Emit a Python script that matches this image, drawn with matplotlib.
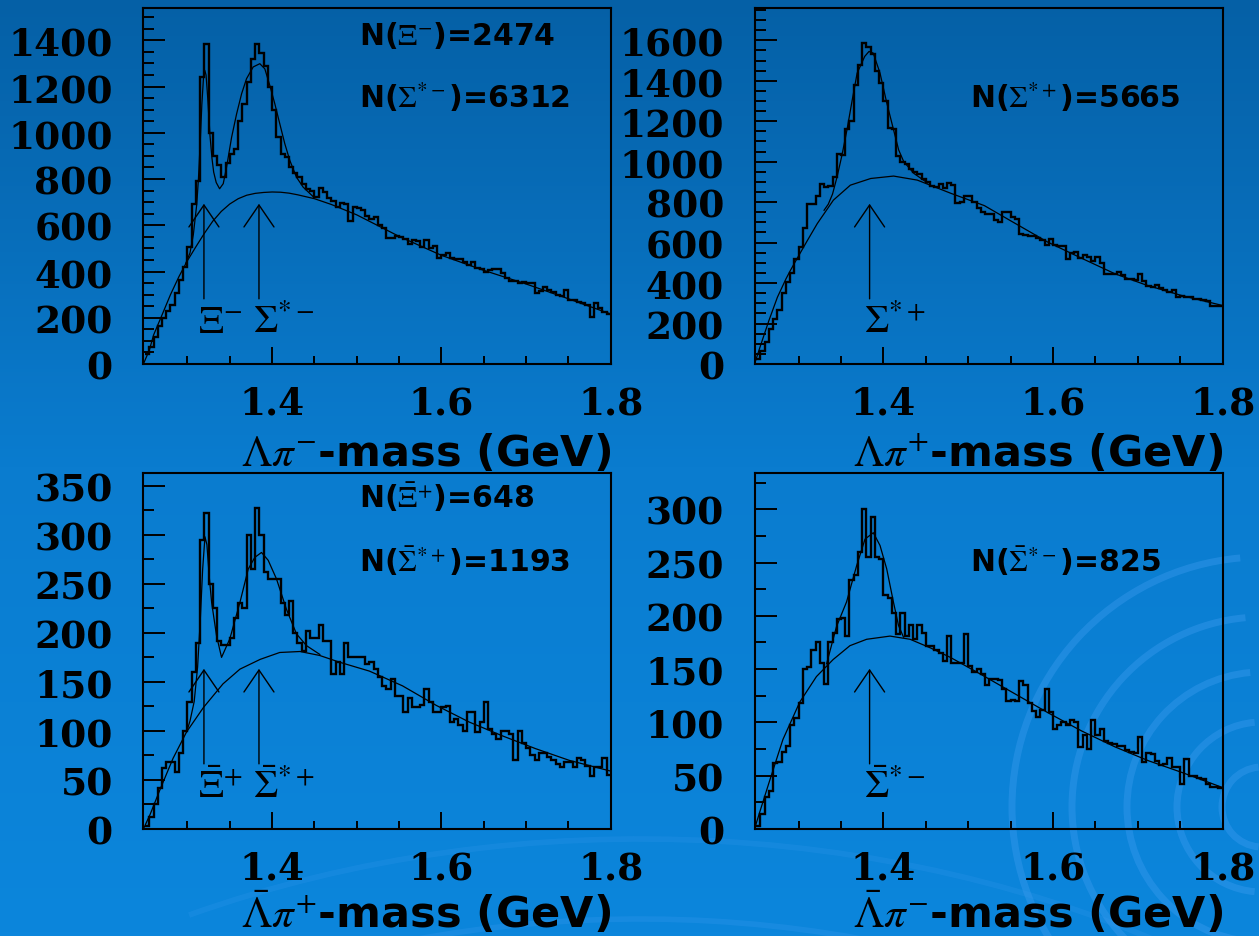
import numpy as np
import matplotlib
matplotlib.use('Agg')  # no display
import matplotlib.pyplot as plt
from matplotlib.ticker import FixedLocator, MultipleLocator
from matplotlib.colors import LinearSegmentedColormap
from matplotlib.patches import Arc

plt.rcParams['mathtext.fontset'] = 'stix'

# ----------------------------
# DATA
# ----------------------------
# 5 MeV bins from 1.250 to 1.800 GeV
edges = np.round(np.linspace(1.25, 1.80, 111), 4)

# Lambda pi-  (top left)
lpm_counts = [45, 75, 115, 165, 200, 230, 255, 305, 365, 420,
              505, 690, 790, 1240, 1385, 1000, 900, 860, 810, 870,
              910, 930, 1050, 1125, 1220, 1320, 1385, 1345, 1290, 1200,
              1100, 980, 910, 895, 850, 825, 808, 780, 758, 750,
              722, 760, 745, 720, 705, 680, 695, 690, 620, 680,
              675, 665, 640,
              625, 635, 600, 590, 545, 545, 555, 550, 540, 520,
              535, 530, 505, 535, 500, 510, 460, 470, 480, 460,
              455, 455, 440, 430, 440, 415, 412, 400, 405, 410,
              410, 395, 370, 360, 358, 350, 355, 352, 350, 305,
              315, 335, 320, 312, 300, 295, 320, 278, 275, 270,
              262, 255, 205, 265, 240, 225, 215]
lpm_bkg_m = [1.248, 1.255, 1.26, 1.27, 1.28, 1.29, 1.30, 1.31, 1.32, 1.33, 1.34, 1.35, 1.36,
             1.37, 1.38, 1.39, 1.40, 1.41, 1.42, 1.43, 1.45, 1.47, 1.50, 1.55, 1.60, 1.65,
             1.70, 1.75, 1.80]
lpm_bkg_v = [0, 60, 125, 212, 300, 378, 447, 507, 565, 618, 660, 692, 715,
             730, 738, 742, 744, 743, 739, 732, 715, 690, 645, 552, 470, 405,
             346, 282, 216]
lpm_fit_m = [1.298, 1.303, 1.307, 1.311, 1.313, 1.315, 1.317, 1.319, 1.3205, 1.322, 1.324,
             1.3266, 1.329, 1.331, 1.334, 1.338, 1.3423, 1.3462, 1.3522, 1.3581, 1.364,
             1.3698, 1.3777, 1.3855, 1.3914, 1.3973, 1.4032, 1.4091, 1.415, 1.421, 1.4288,
             1.4367, 1.4485]
lpm_fit_v = [435, 480, 560, 690, 800, 950, 1120, 1240, 1270, 1250, 1150,
             990, 890, 830, 785, 758, 780, 851, 981, 1082, 1169,
             1234, 1285, 1299, 1277, 1205, 1126, 1039, 953, 880, 808,
             765, 724]

# Lambda pi+  (top right)
lpp_counts = [25, 65, 110, 175, 220, 265, 350, 405, 450, 520,
              580, 670, 790, 790, 830, 890, 875, 880, 925, 1040,
              1035, 1160, 1200, 1380, 1480, 1585, 1565, 1535, 1450, 1390,
              1300, 1165, 1160, 1030, 1000, 990, 965, 950, 940, 915,
              900, 880, 875, 890, 870, 895, 885, 795, 800, 830,
              830, 800, 770,
              750, 742, 742, 710, 700, 752, 752, 725, 715, 645,
              640, 632, 632, 625, 615, 590, 620, 590, 585, 585,
              520, 548, 555, 525, 538, 530, 508, 530, 500, 445,
              445, 445, 455, 440, 420, 422, 415, 445, 410, 385,
              380, 390, 375, 365, 355, 365, 330, 338, 330, 330,
              322, 320, 315, 312, 285, 285, 287]
lpp_bkg_m = [1.248, 1.255, 1.265, 1.275, 1.285, 1.29, 1.298, 1.31, 1.322, 1.341, 1.361,
             1.385, 1.412, 1.44, 1.48, 1.519, 1.55, 1.594, 1.63, 1.673, 1.71, 1.752, 1.80]
lpp_bkg_v = [0, 90, 215, 330, 420, 460, 520, 608, 694, 810, 884,
             917, 929, 909, 843, 783, 708, 602, 530, 446, 390, 338, 289]
lpp_fit_m = [1.33, 1.335, 1.34, 1.3454, 1.351, 1.357, 1.363, 1.369, 1.378, 1.383, 1.388,
             1.396, 1.404, 1.412, 1.418, 1.424, 1.436, 1.452]
lpp_fit_v = [760, 790, 840, 926, 1030, 1157, 1300, 1438, 1521, 1545, 1537,
             1438, 1290, 1157, 1058, 1000, 942, 895]

# anti-Lambda pi+  (bottom left)
alpp_counts = [3, 12, 25, 42, 62, 68, 68, 58, 78, 100,
               130, 160, 190, 295, 322, 250, 225, 192, 188, 188,
               195, 215, 230, 225, 300, 265, 327, 300, 262, 255,
               255, 255, 230, 218, 232, 200, 190, 182, 202, 195,
               195, 208, 192, 192, 158, 170, 158, 190, 175, 175,
               175, 175, 168,
               170, 163, 155, 146, 143, 153, 136, 136, 119, 134,
               124, 124, 126, 143, 130, 119, 119, 124, 125, 109,
               112, 106, 100, 119, 119, 99, 109, 129, 102, 97,
               92, 100, 100, 97, 70, 100, 88, 83, 75, 70,
               78, 78, 73, 70, 66, 63, 68, 68, 63, 72,
               70, 64, 54, 63, 63, 72, 55]
alpp_bkg_m = [1.248, 1.256, 1.268, 1.283, 1.299, 1.319, 1.342, 1.362, 1.386, 1.409, 1.433,
              1.456, 1.48, 1.515, 1.554, 1.594, 1.633, 1.672, 1.711, 1.751, 1.80]
alpp_bkg_v = [0, 15, 41, 72, 99, 124, 148, 163, 173, 180, 181,
              177, 170, 161, 146, 126, 109, 95, 82, 70, 59]
alpp_fit_m = [1.299, 1.303, 1.308, 1.312, 1.315, 1.318, 1.3207, 1.323, 1.326, 1.3286, 1.3344,
              1.3403, 1.3501, 1.362, 1.3718, 1.3796, 1.3875, 1.3954, 1.4052, 1.417, 1.4288,
              1.4406, 1.4564]
alpp_fit_v = [99, 110, 130, 165, 210, 265, 298, 290, 255, 231, 197,
              175, 194, 231, 265, 277, 282, 274, 255, 224, 199,
              187, 178]

# anti-Lambda pi-  (bottom right)
alpm_counts = [3, 14, 30, 36, 62, 63, 72, 78, 98, 104,
               118, 150, 152, 168, 175, 156, 136, 175, 184, 197,
               198, 181, 234, 238, 260, 300, 255, 293, 255, 253,
               220, 217, 203, 183, 203, 181, 191, 178, 191, 184,
               172, 172, 168, 165, 158, 181, 156, 156, 156, 183,
               153, 147, 150,
               145, 135, 141, 141, 140, 131, 120, 121, 120, 139,
               135, 118, 111, 105, 112, 131, 110, 94, 98, 100,
               98, 102, 100, 77, 88, 75, 102, 88, 94, 83,
               81, 80, 78, 78, 74, 72, 71, 86, 63, 71,
               70, 64, 60, 61, 67, 58, 58, 42, 66, 50,
               50, 48, 47, 42, 39, 39, 38]
alpm_bkg_m = [1.248, 1.2542, 1.2657, 1.2815, 1.3013, 1.321, 1.3407, 1.3605, 1.3802, 1.4078,
              1.4315, 1.4552, 1.479, 1.5152, 1.5547, 1.5942, 1.6337, 1.6732, 1.7127, 1.7522,
              1.7996]
alpm_bkg_v = [0, 16, 45, 84, 119, 143, 159, 172, 178, 181,
              178, 170, 161, 145, 127, 109, 92, 77, 64, 53,
              39]
alpm_fit_m = [1.333, 1.338, 1.3447, 1.3565, 1.3684, 1.3783, 1.3881, 1.396, 1.4039, 1.4118,
              1.4178, 1.4237]
alpm_fit_v = [155, 170, 190, 213, 247, 272, 278, 266, 244, 213,
              191, 180]

# ----------------------------
# FIGURE
# ----------------------------
fig = plt.figure(figsize=(12.59, 9.37), dpi=100)

# blue slide background with faint swirls
bg = fig.add_axes([0, 0, 1, 1], zorder=-10)
grad = np.linspace(0, 1, 256).reshape(-1, 1)
cmap = LinearSegmentedColormap.from_list('slide', ['#0560a6', '#0a7ccf', '#0c86dc'])
bg.imshow(grad, aspect='auto', cmap=cmap, extent=(0, 1259, 937, 0))
for r in [40, 85, 135, 190, 250]:
    bg.add_patch(Arc((1262, 808), 2 * r, 2 * r, theta1=95, theta2=265,
                     color='#3d9cf0', lw=5, alpha=0.4))
for r, a in [(640, 0.25), (720, 0.2)]:
    bg.add_patch(Arc((640, 1560), 2 * r * 1.4, 2 * r, theta1=235, theta2=315,
                     color='#3d9cf0', lw=4, alpha=a))
bg.set_xlim(0, 1259)
bg.set_ylim(937, 0)
bg.axis('off')

serif = dict(family='DejaVu Serif', weight='bold', size=27)


def draw_panel(rect, counts, bkg_m, bkg_v, fit_m, fit_v, ymax, ymaj, ymin,
               xlabel, xlab_y, ntexts, arrows):
    ax = fig.add_axes(rect)
    ax.patch.set_alpha(0)
    ax.stairs(counts, edges, baseline=None, color='black', lw=1.7)
    ax.plot(bkg_m, bkg_v, color='black', lw=0.9)
    ax.plot(fit_m, fit_v, color='black', lw=0.9)

    ax.set_xlim(1.248, 1.8)
    ax.set_ylim(0, ymax)
    ax.xaxis.set_major_locator(FixedLocator([1.4, 1.6, 1.8]))
    ax.xaxis.set_minor_locator(FixedLocator([1.3, 1.35, 1.45, 1.5, 1.55, 1.65, 1.7, 1.75]))
    ax.yaxis.set_major_locator(MultipleLocator(ymaj))
    ax.yaxis.set_minor_locator(MultipleLocator(ymin))
    ax.tick_params(which='both', direction='in', width=1.4, top=False, right=False)
    ax.tick_params(axis='y', which='major', length=15.5, pad=22)
    ax.tick_params(axis='y', which='minor', length=7.7)
    ax.tick_params(axis='x', which='major', length=12, pad=15)
    ax.tick_params(axis='x', which='minor', length=6)
    ax.set_xticklabels(['1.4', '1.6', '1.8'])
    for lab in ax.get_xticklabels() + ax.get_yticklabels():
        lab.set_fontfamily(serif['family'])
        lab.set_fontweight(serif['weight'])
        lab.set_fontsize(serif['size'])
    for s in ax.spines.values():
        s.set_linewidth(1.5)

    ax.text(1.0, xlab_y, xlabel, transform=ax.transAxes, ha='right', va='baseline',
            fontsize=31, fontweight='bold', family='DejaVu Sans')
    for y, t in ntexts:
        ax.text(0.461, y, t, transform=ax.transAxes, ha='left', va='baseline',
                fontsize=21.5, fontweight='bold', family='DejaVu Sans')
    for m, lbl in arrows:
        ax.annotate('', xy=(m, 0.45), xytext=(m, 0.183),
                    xycoords=('data', 'axes fraction'), textcoords=('data', 'axes fraction'),
                    arrowprops=dict(arrowstyle='->,head_length=1.58,head_width=1.08',
                                    mutation_scale=10, lw=1.0, color='black',
                                    shrinkA=0, shrinkB=0))
        ax.annotate(lbl, xy=(m, 0.09), xycoords=('data', 'axes fraction'),
                    xytext=(-4, 0), textcoords='offset points',
                    ha='left', va='baseline', fontsize=28)
    return ax


draw_panel([0.1139, 0.6105, 0.3712, 0.3799], lpm_counts, lpm_bkg_m, lpm_bkg_v,
           lpm_fit_m, lpm_fit_v, 1540, 200, 50,
           r'$\Lambda\pi^{-}$-mass (GeV)', -0.283,
           [(0.899, r'N($\Xi^{-}$)=2474'), (0.721, r'N($\Sigma^{*-}$)=6312')],
           [(1.3195, r'$\Xi^{-}$'), (1.3845, r'$\Sigma^{*-}$')])

draw_panel([0.5993, 0.6105, 0.3718, 0.3799], lpp_counts, lpp_bkg_m, lpp_bkg_v,
           lpp_fit_m, lpp_fit_v, 1760, 200, 50,
           r'$\Lambda\pi^{+}$-mass (GeV)', -0.283,
           [(0.722, r'N($\Sigma^{*+}$)=5665')],
           [(1.3837, r'$\Sigma^{*+}$')])

draw_panel([0.1139, 0.1142, 0.3712, 0.3799], alpp_counts, alpp_bkg_m, alpp_bkg_v,
           alpp_fit_m, alpp_fit_v, 363, 50, 25,
           r'$\bar{\Lambda}\pi^{+}$-mass (GeV)', -0.275,
           [(0.904, r'N($\bar{\Xi}^{+}$)=648'), (0.726, r'N($\bar{\Sigma}^{*+}$)=1193')],
           [(1.3195, r'$\bar{\Xi}^{+}$'), (1.3845, r'$\bar{\Sigma}^{*+}$')])

draw_panel([0.5993, 0.1142, 0.3718, 0.3799], alpm_counts, alpm_bkg_m, alpm_bkg_v,
           alpm_fit_m, alpm_fit_v, 334, 50, 25,
           r'$\bar{\Lambda}\pi^{-}$-mass (GeV)', -0.275,
           [(0.726, r'N($\bar{\Sigma}^{*-}$)=825')],
           [(1.3837, r'$\bar{\Sigma}^{*-}$')])

fig.savefig('out.png', dpi=100)
